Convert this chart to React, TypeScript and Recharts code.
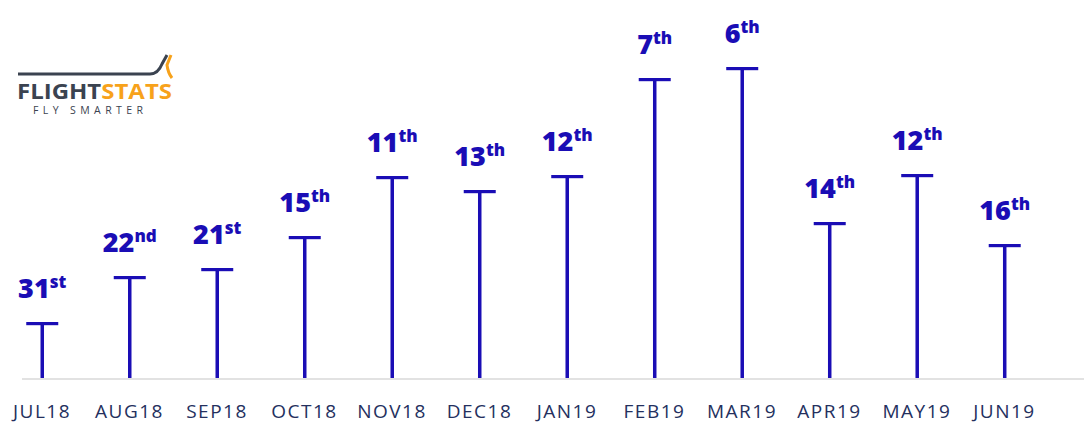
import React from 'react';
import { BarChart, Bar, XAxis, YAxis, LabelList } from 'recharts';

const MONTHS = ['JUL18', 'AUG18', 'SEP18', 'OCT18', 'NOV18', 'DEC18', 'JAN19', 'FEB19', 'MAR19', 'APR19', 'MAY19', 'JUN19'];
const RANKS = [31, 22, 21, 15, 11, 13, 12, 7, 6, 14, 12, 16];
const SCORES = [57, 103, 111, 143, 203, 189, 204, 301, 312, 157, 205, 135];

const BLUE = '#1a0db5';

const suffix = (n: number) => {
  const t = n % 100;
  if (t >= 11 && t <= 13) return 'th';
  if (n % 10 === 1) return 'st';
  if (n % 10 === 2) return 'nd';
  if (n % 10 === 3) return 'rd';
  return 'th';
};

const data = MONTHS.map((m, i) => ({ idx: i, month: m, score: SCORES[i], rank: RANKS[i] }));

const TBar = (props: any) => {
  const { x, y, width, height } = props;
  const cx = x + width / 2;
  return (
    <g fill={BLUE}>
      <rect x={cx - 1.75} y={y} width={3.5} height={height} />
      <rect x={x} y={y} width={width} height={3.2} />
    </g>
  );
};

const RankLabel = (props: any) => {
  const { x, y, width, value } = props;
  return (
    <text x={x + width / 2} y={y - 24} textAnchor="middle" fill={BLUE} fontFamily="'Open Sans', sans-serif" fontWeight={800}>
      <tspan fontSize={27}>{value}</tspan>
      <tspan fontSize={17} dy={-10}>{suffix(value)}</tspan>
    </text>
  );
};

const Logo = () => (
  <svg width={180} height={70} style={{ position: 'absolute', left: 0, top: 50 }}>
    <path d="M18 24 L150 24 Q158 24 162 14 L167 5" stroke="#3b4350" strokeWidth={3} fill="none" />
    <path d="M171 5 L167 15 Q168 23 172 28" stroke="#f7a21b" strokeWidth={3} fill="none" />
    <text x={17} y={49} fontFamily="'Open Sans', sans-serif" fontWeight={700} fontSize={21} textLength={155} lengthAdjust="spacingAndGlyphs">
      <tspan fill="#3b4350">FLIGHT</tspan>
      <tspan fill="#f7a21b">STATS</tspan>
    </text>
    <text x={33} y={64} fontFamily="'Open Sans', sans-serif" fontSize={10.5} fill="#3b4350" letterSpacing={4.4}>
      FLY SMARTER
    </text>
  </svg>
);

export default function App() {
  return (
    <div style={{ position: 'absolute', left: 0, top: 0, width: 1084, height: 424, background: '#fff' }}>
      <Logo />
      <BarChart width={1084} height={424} data={data} margin={{ top: 0, right: 0, bottom: 0, left: 22 }}>
        <XAxis
          dataKey="idx"
          type="number"
          domain={[-0.2286, 11.909]}
          ticks={MONTHS.map((_, i) => i)}
          tickFormatter={(v: number) => MONTHS[v]}
          height={45}
          tickLine={false}
          tickMargin={20}
          axisLine={{ stroke: '#e2e2e2', strokeWidth: 2 }}
          tick={{ fill: '#24305e', fontSize: 19, letterSpacing: 1.5, fontFamily: "'Open Sans', sans-serif" }}
          allowDataOverflow
        />
        <YAxis hide domain={[0, 379]} />
        <Bar dataKey="score" barSize={32} shape={<TBar />} isAnimationActive={false}>
          <LabelList dataKey="rank" content={<RankLabel />} />
        </Bar>
      </BarChart>
    </div>
  );
}
